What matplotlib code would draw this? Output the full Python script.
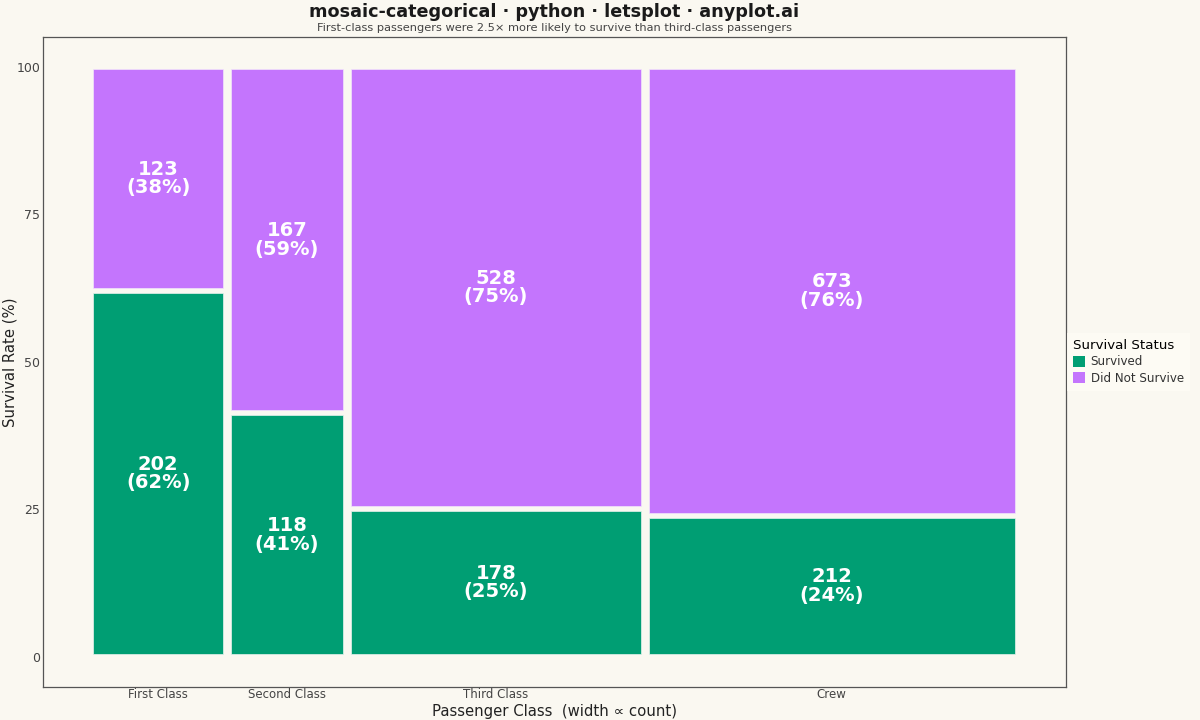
import matplotlib
matplotlib.use("Agg")
import matplotlib.pyplot as plt
from matplotlib.patches import Rectangle, Patch

# Data
classes = ["First Class", "Second Class", "Third Class", "Crew"]
survived = [202, 118, 178, 212]
died = [123, 167, 528, 673]

green = "#009E73"
purple = "#C475FD"
bg = "#FAF8F1"

pad_x = 9      # inset of each column, in passenger counts
pad_y = 0.42   # inset of each tile, in percent

fig = plt.figure(figsize=(12, 7.2), dpi=100, facecolor=bg)
ax = fig.add_axes([0.036, 0.046, 0.852, 0.903], facecolor=bg)

x = 0
centers = []
for name, s, d in zip(classes, survived, died):
    n = s + d
    ps = s / n * 100
    pd_ = d / n * 100
    x0, w = x + pad_x, n - 2 * pad_x
    ax.add_patch(Rectangle((x0, pad_y), w, ps - 2 * pad_y, facecolor=green,
                           edgecolor="#e8f3ee", linewidth=0.5))
    ax.add_patch(Rectangle((x0, ps + pad_y), w, 100 - ps - 2 * pad_y, facecolor=purple,
                           edgecolor="#f1e4fb", linewidth=0.5))
    cx = x + n / 2
    ax.text(cx, ps / 2, f"{s}\n({ps:.0f}%)", ha="center", va="center",
            color="white", fontsize=14, fontweight="bold", linespacing=0.98)
    ax.text(cx, (ps + 100) / 2, f"{d}\n({pd_:.0f}%)", ha="center", va="center",
            color="white", fontsize=14, fontweight="bold", linespacing=0.98)
    centers.append(cx)
    x += n

total = x
ax.set_xlim(-110, total + 112)
ax.set_ylim(-5.1, 105.1)

ax.set_xticks(centers)
ax.set_xticklabels(classes, fontsize=8.5, color="#444444")
ax.set_yticks([0, 25, 50, 75, 100])
ax.set_yticklabels(["0", "25", "50", "75", "100"], fontsize=9, color="#444444")
ax.tick_params(axis="x", length=0, pad=1)
ax.tick_params(axis="y", length=0, pad=2)

for sp in ax.spines.values():
    sp.set_color("#555555")
    sp.set_linewidth(0.9)

ax.set_xlabel("Passenger Class  (width \u221d count)", fontsize=10.7, color="#222222", labelpad=2)
ax.set_ylabel("Survival Rate (%)", fontsize=10.7, color="#222222")
ax.yaxis.set_label_coords(-0.025, 0.5)

fig.text(0.462, 0.984, "mosaic-categorical \u00b7 python \u00b7 letsplot \u00b7 anyplot.ai",
         ha="center", va="center", fontsize=12.7, fontweight="bold", color="#1a1a1a")
fig.text(0.462, 0.961, "First-class passengers were 2.5\u00d7 more likely to survive than third-class passengers",
         ha="center", va="center", fontsize=8.2, color="#444444")

handles = [Patch(facecolor=green, label="Survived"), Patch(facecolor=purple, label="Did Not Survive")]
leg = ax.legend(handles=handles, title="Survival Status", loc="center left",
                bbox_to_anchor=(1.0, 0.5), borderaxespad=0.1, frameon=True, fontsize=8.6,
                title_fontsize=9.6, handlelength=1.0, handleheight=1.0, handletextpad=0.5,
                labelspacing=0.3, borderpad=0.5, fancybox=False)
leg.get_frame().set_facecolor("#FFFDF5")
leg.get_frame().set_edgecolor("none")
for t in leg.get_texts():
    t.set_color("#333333")
leg._legend_box.align = "left"

fig.savefig("out.png", dpi=100, facecolor=bg)
